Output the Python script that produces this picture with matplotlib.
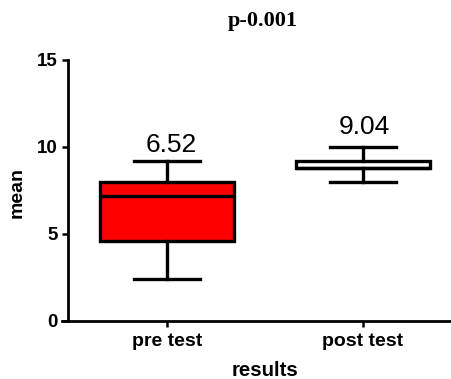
import matplotlib
matplotlib.use("Agg")
import matplotlib.pyplot as plt

categories = ["pre test", "post test"]
whisker_low = [2.4, 8.0]
q1 = [4.6, 8.8]
median = [7.2, 8.8]
q3 = [8.0, 9.2]
whisker_high = [9.2, 10.0]
means = [6.52, 9.04]
mean_labels = ["6.52", "9.04"]
box_colors = ["#ff0000", "#ffffff"]
label_offsets_pt = [3, 6]
yticks = [0, 5, 10, 15]

W, H = 451, 379
fig = plt.figure(figsize=(W / 100, H / 100), dpi=100)
ax_l, ax_r = 62, 451
ax_top, ax_bot = 60, 320.7
ax = fig.add_axes([ax_l / W, (H - ax_bot) / H, (ax_r - ax_l) / W, (ax_bot - ax_top) / H])

stats = []
for i, c in enumerate(categories):
    stats.append(dict(label=c, whislo=whisker_low[i], q1=q1[i], med=median[i],
                      q3=q3[i], whishi=whisker_high[i], fliers=[]))

lw = 2.4
bp = ax.bxp(stats, positions=range(len(categories)), widths=0.68, patch_artist=True,
            showfliers=False,
            boxprops=dict(linewidth=lw, edgecolor="black"),
            medianprops=dict(color="black", linewidth=lw),
            whiskerprops=dict(color="black", linewidth=lw),
            capprops=dict(color="black", linewidth=lw),
            capwidths=0.34)
for patch, col in zip(bp["boxes"], box_colors):
    patch.set_facecolor(col)

for i, lab in enumerate(mean_labels):
    ax.annotate(lab, xy=(i, whisker_high[i]), xytext=(3 if i == 0 else 1, label_offsets_pt[i]),
                textcoords="offset points", ha="center", va="bottom",
                fontsize=19, family="Liberation Sans")

ax.set_xlim(-0.536, 1.449)
ax.set_ylim(0, 15)
ax.set_yticks(yticks)
ax.set_xticks(range(len(categories)))
ax.set_xticklabels(categories)

for s in ["top", "right"]:
    ax.spines[s].set_visible(False)
ax.spines["left"].set_position(("axes", 6 / (ax_r - ax_l)))
ax.spines["left"].set_linewidth(2)
ax.spines["bottom"].set_linewidth(2)
ax.tick_params(axis="both", width=1.8, length=4.5, direction="out", pad=3)
ax.tick_params(axis="x", pad=4)

for t in ax.get_yticklabels():
    t.set_fontfamily("Liberation Sans")
    t.set_fontweight("bold")
    t.set_fontsize(13.5)
for t in ax.get_xticklabels():
    t.set_fontfamily("Liberation Sans")
    t.set_fontweight("bold")
    t.set_fontsize(14)

fig.text(17 / W, 1 - 192 / H, "mean", rotation=90, ha="center", va="center",
         fontsize=14, fontweight="bold", family="Liberation Sans")
fig.text(265 / W, 1 - 370 / H, "results", ha="center", va="center",
         fontsize=14.7, fontweight="bold", family="Liberation Sans")
fig.text(263 / W, 1 - 21 / H, "p-0.001", ha="center", va="center",
         fontsize=16, fontweight="bold", family="Liberation Serif")

fig.savefig("out.png", dpi=100)
